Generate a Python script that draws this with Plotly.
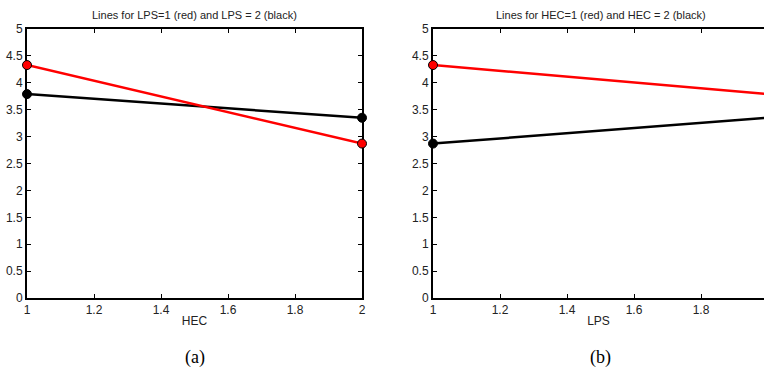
import plotly.graph_objects as go

# Panel (a): x = HEC, lines for LPS levels
hec = [1, 2]
lps1_by_hec = [4.33, 2.87]   # red
lps2_by_hec = [3.79, 3.35]   # black

# Panel (b): x = LPS, lines for HEC levels
lps = [1, 2]
hec1_by_lps = [4.33, 3.79]   # red
hec2_by_lps = [2.87, 3.35]   # black

y_ticks = [0, 0.5, 1, 1.5, 2, 2.5, 3, 3.5, 4, 4.5, 5]
y_labels = ["0", "0.5", "1", "1.5", "2", "2.5", "3", "3.5", "4", "4.5", "5"]
x_ticks = [1, 1.2, 1.4, 1.6, 1.8, 2]
x_labels = ["1", "1.2", "1.4", "1.6", "1.8", "2"]

titles = ["Lines for LPS=1 (red) and LPS = 2 (black)",
          "Lines for HEC=1 (red) and HEC = 2 (black)"]
xtitles = ["HEC", "LPS"]
captions = ["(a)", "(b)"]

W, H = 764, 371
fig = go.Figure()

def add_line(x, y, color, xa, ya):
    fig.add_trace(go.Scatter(
        x=x, y=y, mode="lines+markers", xaxis=xa, yaxis=ya,
        line=dict(color=color, width=2.5),
        marker=dict(size=9, color=color, line=dict(color="black", width=1)),
        showlegend=False, cliponaxis=False, hoverinfo="skip"))

add_line(hec, lps2_by_hec, "black", "x", "y")
add_line(hec, lps1_by_hec, "red", "x", "y")
add_line(lps, hec2_by_lps, "black", "x2", "y2")
add_line(lps, hec1_by_lps, "red", "x2", "y2")

tickfont = dict(family="Liberation Sans, Arial", size=12, color="#222222")
ydom = [(371 - 298) / H, (371 - 29) / H]
xdoms = [[27 / W, 362 / W], [433 / W, 1.0]]
xranges = [[1, 2], [1, 1.988]]

axcommon = dict(showline=True, linecolor="black", linewidth=2, ticks="inside",
                ticklen=4, tickcolor="black", tickwidth=1, showgrid=False,
                zeroline=False, tickfont=tickfont, automargin=False,
                layer="below traces")

fig.update_layout(
    xaxis=dict(domain=xdoms[0], range=xranges[0], anchor="y", mirror="ticks",
               tickvals=x_ticks, ticktext=x_labels,
               title=dict(text=xtitles[0], font=tickfont, standoff=0), **axcommon),
    yaxis=dict(domain=ydom, range=[0, 5], anchor="x", mirror="ticks",
               tickvals=y_ticks, ticktext=y_labels, **axcommon),
    xaxis2=dict(domain=xdoms[1], range=xranges[1], anchor="y2", mirror="ticks",
                tickvals=x_ticks, ticktext=x_labels,
                title=dict(text=xtitles[1], font=tickfont, standoff=0), **axcommon),
    yaxis2=dict(domain=ydom, range=[0, 5], anchor="x2", mirror=False,
                tickvals=y_ticks, ticktext=y_labels, **axcommon),
    width=W, height=H,
    margin=dict(l=0, r=0, t=0, b=0, autoexpand=False),
    paper_bgcolor="white", plot_bgcolor="white",
    hovermode=False,
)

centers = [(27 + 362) / 2 / W, (433 + 768) / 2 / W]
for i in range(2):
    fig.add_annotation(text=titles[i], x=centers[i], y=(371 - 15) / H,
                       xref="paper", yref="paper", showarrow=False,
                       font=dict(family="Liberation Sans, Arial", size=11, color="#222222"),
                       xanchor="center", yanchor="middle")
    fig.add_annotation(text=captions[i], x=centers[i], y=(371 - 357) / H,
                       xref="paper", yref="paper", showarrow=False,
                       font=dict(family="Liberation Serif, DejaVu Serif", size=18, color="black"),
                       xanchor="center", yanchor="middle")

fig.write_html("out.html", config={"displayModeBar": False},
               post_script="document.body.style.margin='0';document.body.style.overflow='hidden';")
